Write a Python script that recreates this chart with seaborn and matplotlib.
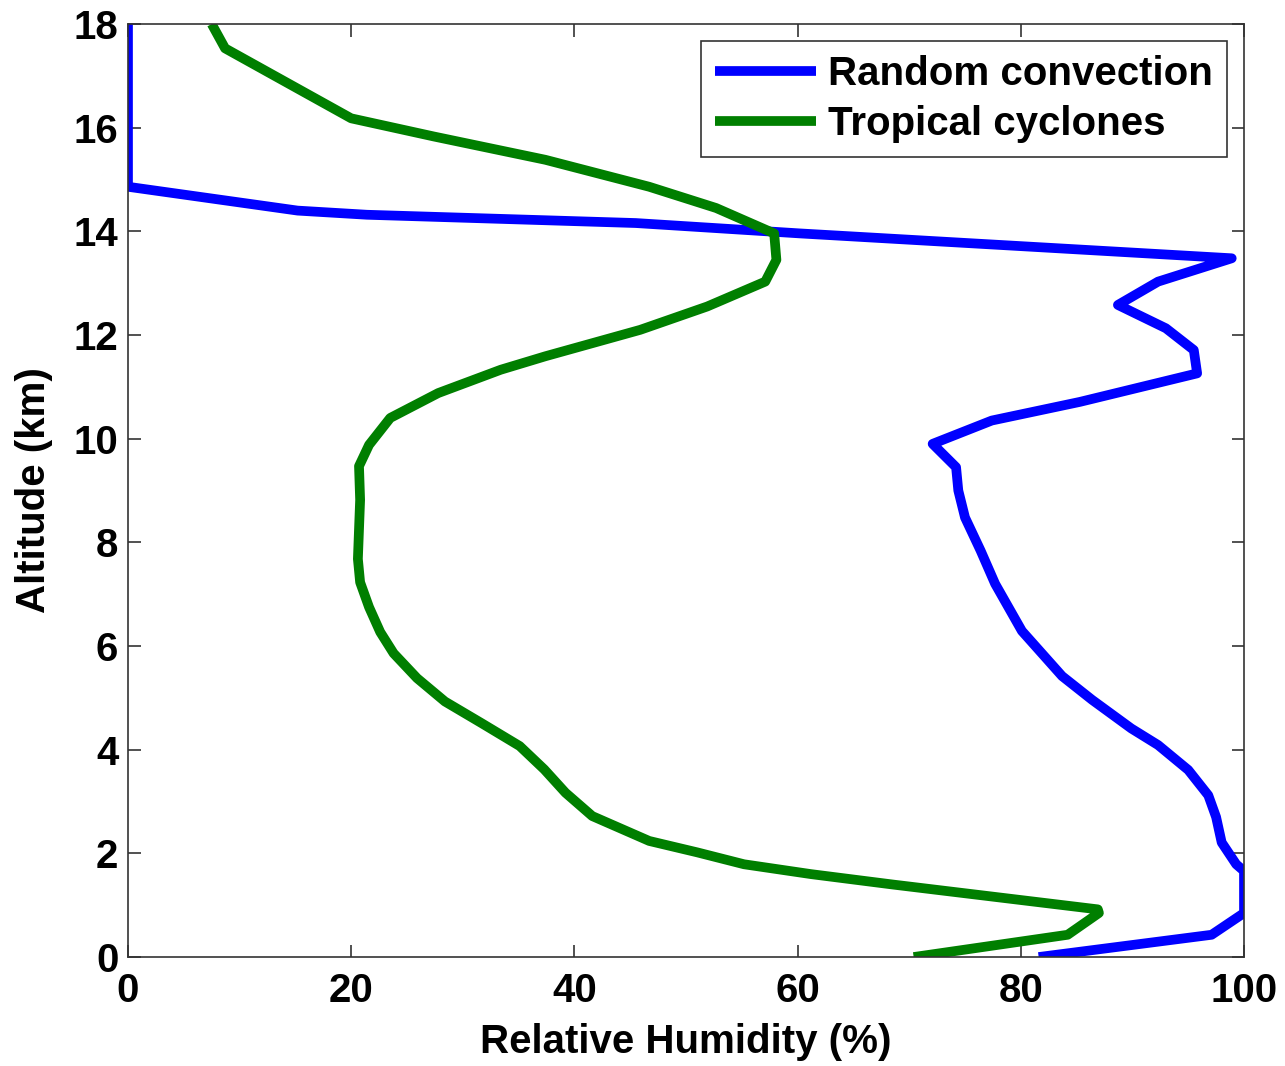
import matplotlib
matplotlib.use("Agg")
import matplotlib.pyplot as plt
import seaborn as sns
import pandas as pd

# Random convection profile (altitude km, relative humidity %)
rc_alt = [0, 0.43, 0.85, 1.66, 1.79, 2.21, 2.70, 3.12, 3.61, 4.09, 4.41, 4.96, 5.42, 6.29,
          7.20, 7.84, 8.48, 9.0, 9.45, 9.90, 10.35, 10.71, 11.26, 11.71, 12.13, 12.58,
          13.03, 13.48, 13.96, 14.16, 14.32, 14.40, 14.86, 18.0]
rc_rh = [81.6, 97.1, 100.0, 100.0, 99.3, 98.0, 97.5, 96.8, 95.0, 92.3, 89.9, 86.4, 83.7, 80.1,
         77.7, 76.4, 75.0, 74.4, 74.2, 72.1, 77.4, 85.3, 95.8, 95.5, 93.0, 88.7,
         92.3, 98.9, 60.2, 45.5, 21.4, 15.2, 0.0, 0.0]

# Tropical cyclones profile
tc_alt = [0, 0.43, 0.85, 0.92, 1.40, 1.60, 1.79, 2.02, 2.24, 2.72, 3.17, 3.62, 4.07, 4.51,
          4.93, 5.38, 5.86, 6.27, 6.75, 7.23, 7.68, 8.82, 9.47, 9.88, 10.40, 10.88, 11.33,
          11.59, 12.10, 12.55, 13.03, 13.45, 13.96, 14.45, 14.86, 15.38, 15.83, 16.18,
          17.53, 18.0]
tc_rh = [70.4, 84.2, 87.0, 86.9, 68.5, 61.2, 55.2, 51.0, 46.7, 41.6, 39.2, 37.3, 35.1, 31.7,
         28.4, 25.9, 23.8, 22.6, 21.6, 20.8, 20.6, 20.8, 20.7, 21.6, 23.5, 27.8, 33.4,
         37.4, 45.9, 51.9, 57.1, 58.1, 57.9, 52.7, 46.7, 37.4, 27.4, 20.0,
         8.7, 7.5]

series_names = ["Random convection", "Tropical cyclones"]
series_colors = ["#0000FF", "#007F00"]

df = pd.concat([
    pd.DataFrame({"rh": rc_rh, "alt": rc_alt, "series": series_names[0]}),
    pd.DataFrame({"rh": tc_rh, "alt": tc_alt, "series": series_names[1]}),
], ignore_index=True)

sns.set_theme(style="ticks")
plt.rcParams["font.family"] = ["Liberation Sans", "DejaVu Sans"]
plt.rcParams["font.weight"] = "bold"
plt.rcParams["text.color"] = "black"
plt.rcParams["axes.labelcolor"] = "black"

fig = plt.figure(figsize=(12.85, 10.66), dpi=100)
ax = fig.add_axes([0.0996, 0.1022, 0.8685, 0.8753])

sns.lineplot(data=df, x="rh", y="alt", hue="series", palette=series_colors,
             sort=False, estimator=None, linewidth=7, ax=ax)
for ln in ax.get_lines():
    ln.set_solid_capstyle("butt")
    ln.set_solid_joinstyle("round")

FS = 29
ax.set_xlim(0, 100)
ax.set_ylim(0, 18)
ax.set_xticks([0, 20, 40, 60, 80, 100])
ax.set_yticks([0, 2, 4, 6, 8, 10, 12, 14, 16, 18])
ax.tick_params(direction="in", length=9, width=1.2, top=True, right=True,
               labelsize=FS, colors="#333333", labelcolor="black")
ax.tick_params(axis="x", pad=11)
ax.tick_params(axis="y", pad=7)
for lab in ax.get_xticklabels() + ax.get_yticklabels():
    lab.set_fontweight("bold")
for sp in ax.spines.values():
    sp.set_visible(True)
    sp.set_linewidth(1.2)
    sp.set_color("#333333")

ax.set_xlabel("Relative Humidity (%)", fontsize=FS, fontweight="bold", labelpad=9)
ax.set_ylabel("Altitude (km)", fontsize=FS, fontweight="bold", labelpad=15)

leg = ax.legend(loc="upper right", fontsize=FS, frameon=True, fancybox=False,
                edgecolor="black", handlelength=2.5, borderpad=0.35,
                labelspacing=0.3, handletextpad=0.3, borderaxespad=0.42)
leg.get_frame().set_linewidth(1.2)
for t in leg.get_texts():
    t.set_fontweight("bold")
for h in leg.get_lines():
    h.set_linewidth(7)
    h.set_solid_capstyle("butt")

fig.savefig("out.png", dpi=100)
